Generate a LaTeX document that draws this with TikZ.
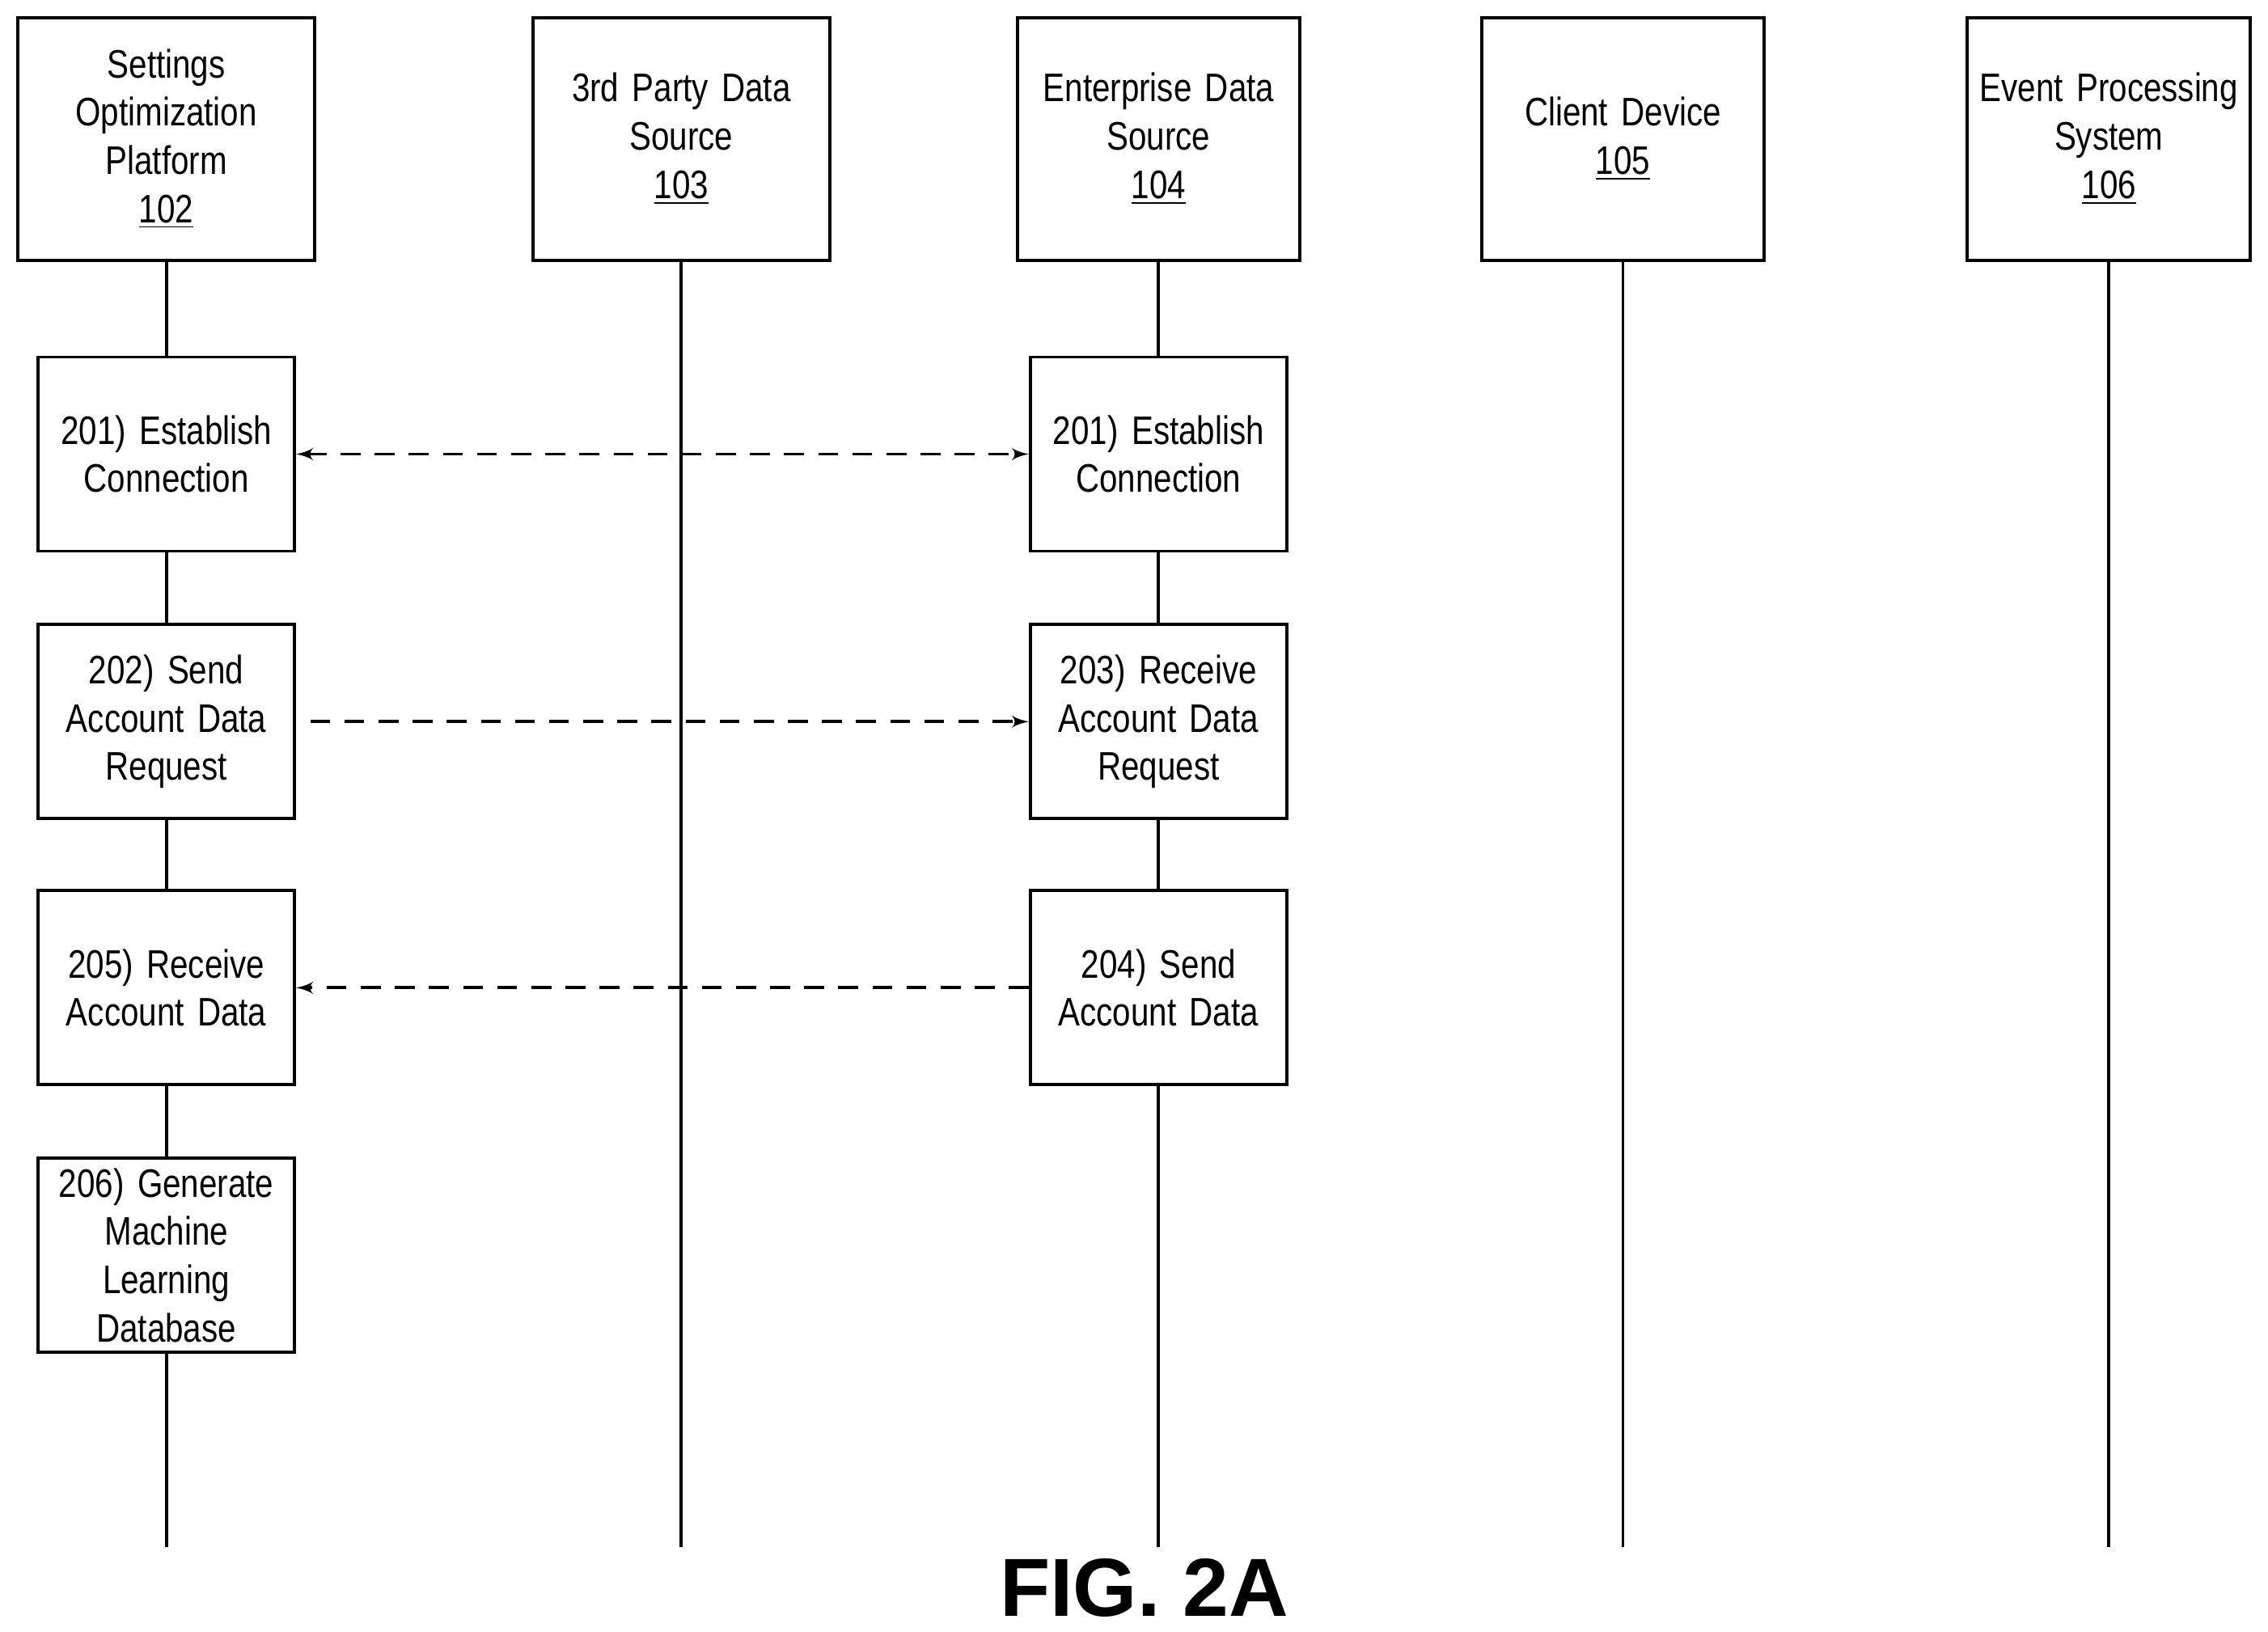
\documentclass[tikz,border=0pt]{standalone}
\usepackage{fontspec}
\setmainfont[FakeStretch=0.82]{Liberation Sans}
\newfontfamily\figfont{Liberation Sans}
\usetikzlibrary{arrows}
\tikzstyle{actor} = [rectangle, draw, fill=white, text centered, text width=3.2cm, minimum width=3.67cm, minimum height=3.0cm, align=center, inner sep=2pt]
\tikzstyle{stepBlock} = [rectangle, draw, fill=white, text centered, text width=3.1cm, minimum width=3.15cm, minimum height=2.4cm, align=center, inner sep=1pt]
\tikzstyle{line} = [draw, dashed, dash pattern=on 7pt off 5pt, -latex']
\begin{document}
\begin{tikzpicture}[x=0.01788cm, y=-0.01788cm, line width=1.1pt, font=\fontsize{14}{17}\selectfont]
    \useasboundingbox (0,0) rectangle (1568,1128);
    % Lifelines
    \foreach \x in {115,471,801,1122,1458}
        \draw (\x,180) -- (\x,1070);
    % Place actors
    \node [actor] (platform) at (115,96) {Settings\\Optimization\\Platform\\\underline{102}};
    \node [actor] (third) at (471,96) {3rd Party Data\\Source\\\underline{103}};
    \node [actor, minimum width=3.49cm] (enterprise) at (801,96) {Enterprise Data\\Source\\\underline{104}};
    \node [actor, minimum width=3.49cm] (client) at (1122,96) {Client Device\\\underline{105}};
    \node [actor, minimum width=3.5cm] (events) at (1458,96) {Event Processing\\System\\\underline{106}};
    % Place steps
    \node [stepBlock] (connA) at (115,314) {201) Establish\\Connection};
    \node [stepBlock] (connB) at (801,314) {201) Establish\\Connection};
    \node [stepBlock] (sendReq) at (115,499) {202) Send\\Account Data\\Request};
    \node [stepBlock] (recvReq) at (801,499) {203) Receive\\Account Data\\Request};
    \node [stepBlock] (recvData) at (115,683) {205) Receive\\Account Data};
    \node [stepBlock] (sendData) at (801,683) {204) Send\\Account Data};
    \node [stepBlock] (genDb) at (115,868) {206) Generate\\Machine\\Learning\\Database};
    % Draw edges
    \path [line, latex'-latex'] (connA) -- (connB);
    \path [line] ([xshift=5pt]sendReq.east) -- (recvReq);
    \path [line] (sendData) -- (recvData);
    \node [font=\figfont\bfseries\fontsize{29}{32}\selectfont] (fig) at (791,1098) {FIG. 2A};
\end{tikzpicture}
\end{document}
